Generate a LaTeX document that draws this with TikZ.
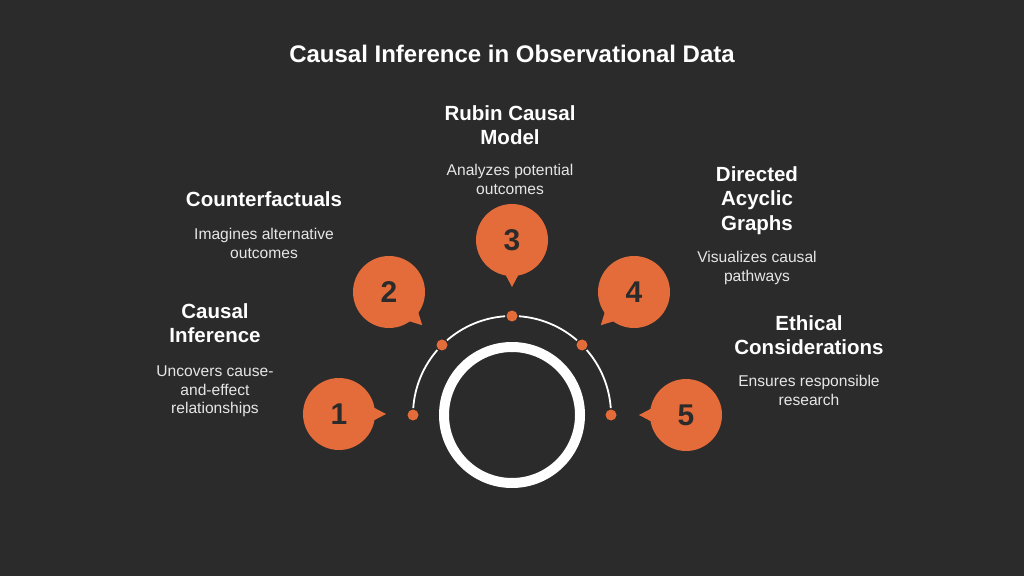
\documentclass[tikz,border=0pt]{standalone}
\usepackage{fontspec}
\setmainfont{Liberation Sans}
\definecolor{bg}{HTML}{2B2B2B}
\definecolor{accent}{HTML}{E36C3A}
\definecolor{numtxt}{HTML}{2B2B2B}
\definecolor{desctxt}{HTML}{E6E6E6}
\begin{document}
\begin{tikzpicture}[x=1pt,y=1pt,
  bubble/.style={circle,fill=accent,minimum size=72pt,inner sep=0pt,
    font=\fontsize{30}{30}\selectfont\bfseries,text=numtxt},
  dotnode/.style={circle,fill=accent,minimum size=11pt,inner sep=0pt},
  head/.style={anchor=north,inner sep=0pt,align=center,text=white,
    font=\fontsize{20.5}{24.5}\selectfont\bfseries},
  desc/.style={anchor=north,inner sep=0pt,align=center,text=desctxt,
    font=\fontsize{15.6}{18.5}\selectfont},
  pointer/.style={fill=accent}]
\useasboundingbox (0,0) rectangle (1024,576);
\fill[bg] (0,0) rectangle (1024,576);

% title
\node[anchor=north,inner sep=0pt,text=white,font=\fontsize{24}{28}\selectfont\bfseries]
  (title) at (512,531) {Causal Inference in Observational Data};

% central ring
\coordinate (ctr) at (512,161);
\draw[white,line width=10pt] (ctr) circle[radius=68];

% arc segments
\foreach \a/\b in {4/41,49/86,94/131,139/176}{
  \draw[white,line width=1.8pt] ([shift={(\a:99)}]ctr) arc[start angle=\a,end angle=\b,radius=99];
}

% dots
\node[dotnode] (d1) at ([shift={(180:99)}]ctr) {};
\node[dotnode] (d2) at ([shift={(135:99)}]ctr) {};
\node[dotnode] (d3) at ([shift={(90:99)}]ctr) {};
\node[dotnode] (d4) at ([shift={(45:99)}]ctr) {};
\node[dotnode] (d5) at ([shift={(0:99)}]ctr) {};

% bubbles
\node[bubble] (b1) at (339,162) {1};
\node[bubble] (b2) at (389,284) {2};
\node[bubble] (b3) at (512,336) {3};
\node[bubble] (b4) at (634,284) {4};
\node[bubble] (b5) at (686,161) {5};
\foreach \n/\r in {b1/0,b2/-45,b3/-90,b4/-135,b5/180}{
  \fill[pointer,shift={(\n.center)},rotate=\r] (28,-10) -- (47,0) -- (28,10) -- cycle;
}

% labels
\node[head] (h1) at (215,273) {Causal\\Inference};
\node[desc] (t1) at (215,210) {Uncovers cause-\\and-effect\\relationships};

\node[head] (h2) at (264,385) {Counterfactuals};
\node[desc] (t2) at (264,348) {Imagines alternative\\outcomes};

\node[head] (h3) at (510,471) {Rubin Causal\\Model};
\node[desc] (t3) at (510,412) {Analyzes potential\\outcomes};

\node[head] (h4) at (757,410) {Directed\\Acyclic\\Graphs};
\node[desc] (t4) at (757,325) {Visualizes causal\\pathways};

\node[head] (h5) at (809,261) {Ethical\\Considerations};
\node[desc] (t5) at (809,201) {Ensures responsible\\research};
\end{tikzpicture}
\end{document}
